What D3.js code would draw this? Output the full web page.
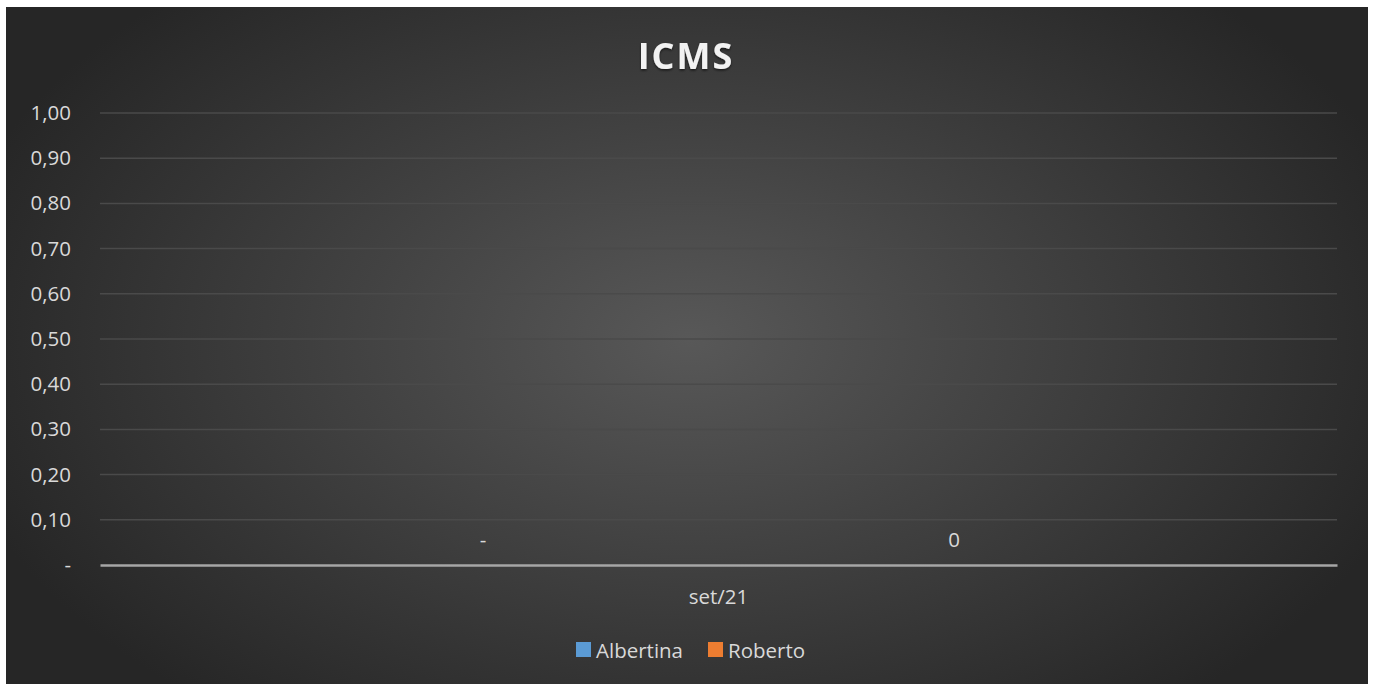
<!DOCTYPE html>
<html><head><meta charset="utf-8">
<script src="https://cdn.jsdelivr.net/npm/d3@7"></script>
<style>html,body{margin:0;padding:0;background:#fff;}svg{display:block;}</style>
</head><body>
<svg id="c" width="1375" height="684"></svg>
<script>
const title = "ICMS";
const categories = ["set/21"];
const seriesNames = ["Albertina", "Roberto"];
const seriesColors = ["#5b9bd5", "#ed7d31"];
const albertinaValues = [0];
const robertoValues = [0];
const seriesValues = [albertinaValues, robertoValues];
const yTicks = [0, 0.1, 0.2, 0.3, 0.4, 0.5, 0.6, 0.7, 0.8, 0.9, 1.0];

const svg = d3.select("#c");
const font = "'Open Sans', 'Noto Sans', sans-serif";
const fs = "20.5px";

const defs = svg.append("defs");
const rg = defs.append("radialGradient").attr("id", "bg")
  .attr("gradientUnits", "userSpaceOnUse")
  .attr("cx", 690).attr("cy", 340).attr("r", 760)
  .attr("gradientTransform", "translate(690,340) scale(1,0.62) translate(-690,-340)");
rg.append("stop").attr("offset", "0").attr("stop-color", "#585858");
rg.append("stop").attr("offset", "1").attr("stop-color", "#262626");

const filt = defs.append("filter").attr("id", "sh").attr("x", "-20%").attr("y", "-20%").attr("width", "140%").attr("height", "160%");
filt.append("feDropShadow").attr("dx", 0).attr("dy", 1.5).attr("stdDeviation", 1.2).attr("flood-color", "#000").attr("flood-opacity", 0.6);

svg.append("rect").attr("x", 6).attr("y", 7).attr("width", 1362).attr("height", 677).attr("fill", "url(#bg)");

const plot = {left: 100, right: 1337, top: 113, bottom: 565};

const y = d3.scaleLinear().domain([0, 1]).range([plot.bottom, plot.top]);
const x0 = d3.scaleBand().domain(categories).range([plot.left, plot.right]).padding(0);
const x1 = d3.scaleBand().domain(seriesNames).range([0, x0.bandwidth()]).paddingInner(0).paddingOuter(0.313);

const yFmt = v => v === 0 ? "-" : d3.format(".2f")(v).replace(".", ",");

// gridlines
svg.append("g").selectAll("line").data(yTicks.filter(t => t > 0)).join("line")
  .attr("x1", plot.left).attr("x2", plot.right)
  .attr("y1", d => y(d)).attr("y2", d => y(d))
  .attr("stroke", "#4a4a4a").attr("stroke-width", 1.5);

// y axis labels
const yAxis = d3.axisLeft(y).tickValues(yTicks).tickFormat(yFmt).tickSize(0).tickPadding(29);
const gy = svg.append("g").attr("transform", `translate(${plot.left},0)`).call(yAxis);
gy.select(".domain").remove();
gy.selectAll("text").attr("fill", "#d9d9d9").style("font-family", font).style("font-size", fs);

// bars
const gBars = svg.append("g");
categories.forEach((c, ci) => {
  seriesNames.forEach((s, si) => {
    const v = seriesValues[si][ci];
    gBars.append("rect")
      .attr("x", x0(c) + x1(s)).attr("width", x1.bandwidth())
      .attr("y", y(v)).attr("height", y(0) - y(v))
      .attr("fill", seriesColors[si]);
  });
});

// data labels
const labelFmts = [v => v === 0 ? "-" : d3.format(".2f")(v).replace(".", ","), v => String(v)];
categories.forEach((c, ci) => {
  seriesNames.forEach((s, si) => {
    const v = seriesValues[si][ci];
    svg.append("text")
      .attr("x", x0(c) + x1(s) + x1.bandwidth() / 2)
      .attr("y", y(v) - 26)
      .attr("text-anchor", "middle").attr("dominant-baseline", "central")
      .attr("fill", "#d9d9d9").style("font-family", font).style("font-size", fs)
      .text(labelFmts[si](v));
  });
});

// x axis
const xAxis = d3.axisBottom(x0).tickSize(0).tickPadding(24);
const gx = svg.append("g").attr("transform", `translate(0,${plot.bottom})`).call(xAxis);
gx.select(".domain").attr("stroke", "#a6a6a6").attr("stroke-width", 2.5);
gx.selectAll("text").attr("fill", "#d9d9d9").style("font-family", font).style("font-size", fs);

// title
svg.append("text").attr("x", 686).attr("y", 55)
  .attr("text-anchor", "middle").attr("dominant-baseline", "central")
  .attr("fill", "#f2f2f2").attr("filter", "url(#sh)")
  .style("font-family", font).style("font-weight", "bold").style("font-size", "36px")
  .style("letter-spacing", "2px")
  .text(title);

// legend
const legendItems = [{x: 576}, {x: 708}];
seriesNames.forEach((s, i) => {
  const g = svg.append("g").attr("transform", `translate(${legendItems[i].x},642)`);
  g.append("rect").attr("width", 15).attr("height", 15).attr("fill", seriesColors[i]);
  g.append("text").attr("x", 20).attr("y", 8).attr("dominant-baseline", "central")
    .attr("fill", "#d9d9d9").style("font-family", font).style("font-size", fs).text(s);
});
</script>
</body></html>
